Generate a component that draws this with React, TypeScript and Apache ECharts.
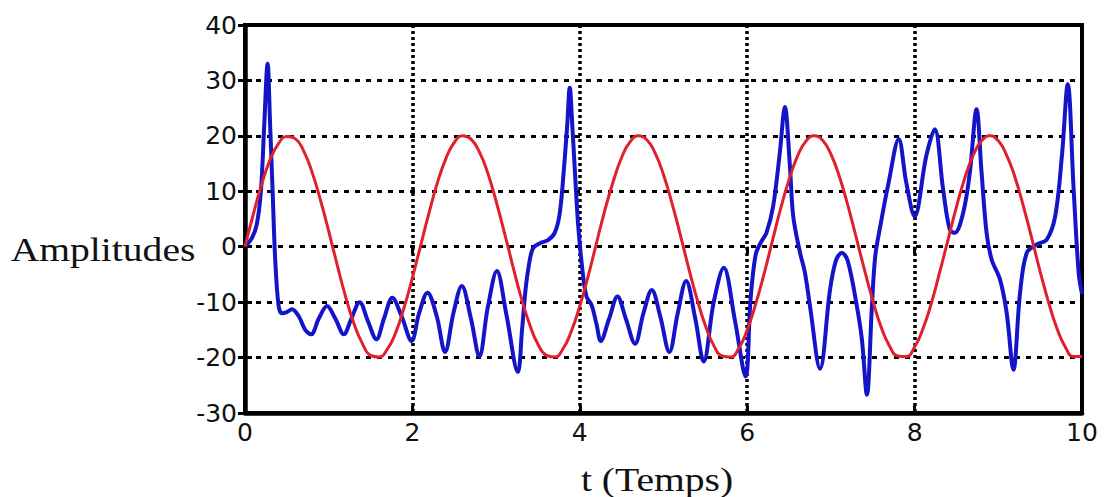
import React, { useEffect, useRef } from "react";
import * as echarts from "echarts";

// Blue signal: time samples and amplitudes
const blueT = [
  0.0, 0.08, 0.14, 0.19, 0.23, 0.27, 0.3, 0.33, 0.36, 0.4, 0.44, 0.5, 0.56, 0.64, 0.72, 0.79, 0.88, 0.98,
  1.08, 1.18, 1.27, 1.37, 1.47, 1.57, 1.66, 1.76, 1.87, 1.99, 2.08, 2.18, 2.29, 2.39, 2.49, 2.59, 2.7,
  2.8, 2.9, 3.01, 3.12, 3.26, 3.31, 3.35, 3.39, 3.44, 3.52, 3.62, 3.7, 3.76, 3.81, 3.85, 3.88, 3.91,
  3.94, 3.98, 4.03, 4.08, 4.14, 4.2, 4.25, 4.35, 4.45, 4.55, 4.66, 4.76, 4.86, 4.96, 5.07, 5.17, 5.27,
  5.38, 5.48, 5.6, 5.72, 5.85, 5.98, 6.04, 6.1, 6.16, 6.23, 6.31, 6.39, 6.45, 6.51, 6.55, 6.63, 6.69,
  6.75, 6.87, 6.99, 7.06, 7.13, 7.2, 7.31, 7.37, 7.43, 7.49, 7.53, 7.59, 7.69, 7.81, 7.9, 8.0, 8.14,
  8.24, 8.34, 8.42, 8.48, 8.58, 8.66, 8.74, 8.8, 8.86, 8.92, 9.02, 9.1, 9.18, 9.26, 9.34, 9.46, 9.58,
  9.68, 9.76, 9.83, 9.9, 9.96, 10.0,
];
const blueV = [
  0, 1.5, 4, 10, 22, 33, 22, 10, -2, -10.5, -12, -11.8, -11.3, -12.5, -15, -15.8, -13, -10.7,
  -13, -15.8, -13, -10, -13.5, -16.7, -13, -9.2, -12.5, -17, -12, -8.3, -12.5, -19, -12, -7.1, -13,
  -19.8, -11, -4.4, -12, -22.6, -15, -8, -3.5, -0.3, 0.6, 1.2, 2.5, 6, 14, 22, 28.7, 22,
  14, 4, -4, -9, -10.5, -14, -17, -13, -9, -13, -17.5, -12, -7.8, -12.5, -19, -12, -6.2,
  -13, -20.7, -10, -3.8, -13, -23.4, -9.5, -1.5, 0.7, 2.5, 7.3, 17, 25.2, 14.6, 5.5, -1, -4.7,
  -10.7, -22, -7.7, -2.5, -1.1, -2.5, -10.7, -16.7, -26.7, -10.7, -1.7, 3.7, 11.6, 19.4, 11.6, 5.5, 16.4,
  21.2, 10.4, 3.1, 2.5, 6.1, 13.4, 24.8, 13.4, 2.5, -2.3, -5.9, -11.9, -22.2, -8.3, -1.1, 0.4, 1.3,
  5.5, 16.4, 29.3, 10.4, -4.7, -8.5,
];

// Red signal: sampled every 0.1 s
const redT = [
  0, 0.1, 0.2, 0.3, 0.4, 0.5, 0.6, 0.7, 0.8, 0.9,
  1, 1.1, 1.2, 1.3, 1.4, 1.5, 1.6, 1.7, 1.8, 1.9,
  2, 2.1, 2.2, 2.3, 2.4, 2.5, 2.6, 2.7, 2.8, 2.9,
  3, 3.1, 3.2, 3.3, 3.4, 3.5, 3.6, 3.7, 3.8, 3.9,
  4, 4.1, 4.2, 4.3, 4.4, 4.5, 4.6, 4.7, 4.8, 4.9,
  5, 5.1, 5.2, 5.3, 5.4, 5.5, 5.6, 5.7, 5.8, 5.9,
  6, 6.1, 6.2, 6.3, 6.4, 6.5, 6.6, 6.7, 6.8, 6.9,
  7, 7.1, 7.2, 7.3, 7.4, 7.5, 7.6, 7.7, 7.8, 7.9,
  8, 8.1, 8.2, 8.3, 8.4, 8.5, 8.6, 8.7, 8.8, 8.9,
  9, 9.1, 9.2, 9.3, 9.4, 9.5, 9.6, 9.7, 9.8, 9.9,
  10,
];
const redV = [
  0, 5.9, 11.3, 15.7, 18.6, 19.9, 19.5, 17.3, 13.5, 8.5,
  2.8, -3.2, -8.9, -13.8, -17.4, -19.6, -19.9, -18.5, -15.5, -11.0,
  -5.6, 0.3, 6.2, 11.6, 15.9, 18.8, 20.0, 19.4, 17.1, 13.3,
  8.2, 2.5, -3.5, -9.2, -14.0, -17.6, -19.6, -19.9, -18.4, -15.2,
  -10.7, -5.3, 0.7, 6.6, 11.8, 16.1, 18.9, 20.0, 19.3, 16.9,
  13.0, 7.9, 2.2, -3.8, -9.4, -14.2, -17.8, -19.7, -19.9, -18.3,
  -15.0, -10.4, -5.0, 1.0, 6.9, 12.1, 16.3, 19.0, 20.0, 19.2,
  16.7, 12.7, 7.6, 1.8, -4.1, -9.7, -14.5, -17.9, -19.7, -19.8,
  -18.1, -14.8, -10.2, -4.6, 1.3, 7.2, 12.4, 16.5, 19.1, 20.0,
  19.1, 16.5, 12.5, 7.3, 1.5, -4.5, -10.0, -14.7, -18.1, -19.8,
  -19.8,
];

const yTitle = "Amplitudes";
const xTitle = "t (Temps)";

export default function App() {
  const ref = useRef<HTMLDivElement>(null);

  useEffect(() => {
    if (!ref.current) return;
    const chart = echarts.init(ref.current, null, { renderer: "svg" });
    const blueData = blueT.map((t, i) => [t, blueV[i]]);
    const redData = redT.map((t, i) => [t, redV[i]]);
    const labelStyle = { fontFamily: "DejaVu Sans", fontSize: 25, color: "#111" };

    chart.setOption({
      animation: false,
      backgroundColor: "#ffffff",
      grid: {
        left: 245,
        right: 28,
        top: 25,
        bottom: 84,
        show: true,
        borderColor: "#000",
        borderWidth: 4,
        backgroundColor: "transparent",
      },
      xAxis: [
        {
          type: "value",
          min: 0,
          max: 10,
          interval: 2,
          position: "bottom",
          axisLine: { show: true, onZero: false, lineStyle: { color: "#000", width: 4.5 } },
          axisTick: { show: true, inside: true, length: 7, lineStyle: { color: "#000", width: 3 } },
          axisLabel: { ...labelStyle, margin: 7 },
          splitLine: { show: true, lineStyle: { color: "#000", width: 3.5, type: [3, 3] } },
        },
        {
          type: "value",
          min: 0,
          max: 10,
          interval: 2,
          position: "top",
          axisLine: { show: false },
          axisTick: { show: true, inside: true, length: 7, lineStyle: { color: "#000", width: 3 } },
          axisLabel: { show: false },
          splitLine: { show: false },
        },
      ],
      yAxis: [
        {
          type: "value",
          min: -30,
          max: 40,
          interval: 10,
          position: "left",
          axisLine: { show: true, onZero: false, lineStyle: { color: "#000", width: 4.5 } },
          axisTick: { show: true, inside: true, length: 7, lineStyle: { color: "#000", width: 3 } },
          axisLabel: { ...labelStyle, margin: 8 },
          splitLine: { show: true, lineStyle: { color: "#000", width: 3, type: [5, 6] } },
        },
        {
          type: "value",
          min: -30,
          max: 40,
          interval: 10,
          position: "right",
          axisLine: { show: false },
          axisTick: { show: true, inside: true, length: 7, lineStyle: { color: "#000", width: 3 } },
          axisLabel: { show: false },
          splitLine: { show: false },
        },
      ],
      series: [
        {
          type: "line",
          data: blueData,
          xAxisIndex: 0,
          yAxisIndex: 0,
          showSymbol: false,
          smooth: 0.35,
          lineStyle: { color: "#1414c8", width: 4 },
          z: 3,
        },
        {
          type: "line",
          data: redData,
          xAxisIndex: 0,
          yAxisIndex: 0,
          showSymbol: false,
          smooth: true,
          lineStyle: { color: "#e0202e", width: 3 },
          z: 4,
        },
      ],
      graphic: [
        {
          type: "text",
          x: 103,
          y: 250,
          scaleX: 1.2,
          style: {
            text: yTitle,
            fontFamily: "Liberation Serif",
            fontSize: 33,
            fill: "#111",
            align: "center",
            verticalAlign: "middle",
          },
        },
        {
          type: "text",
          x: 657,
          y: 480,
          scaleX: 1.2,
          style: {
            text: xTitle,
            fontFamily: "Liberation Serif",
            fontSize: 33,
            fill: "#111",
            align: "center",
            verticalAlign: "middle",
          },
        },
      ],
    });

    return () => chart.dispose();
  }, []);

  return (
    <div
      ref={ref}
      style={{ position: "fixed", left: 0, top: 0, width: 1110, height: 497, background: "#fff" }}
    />
  );
}
